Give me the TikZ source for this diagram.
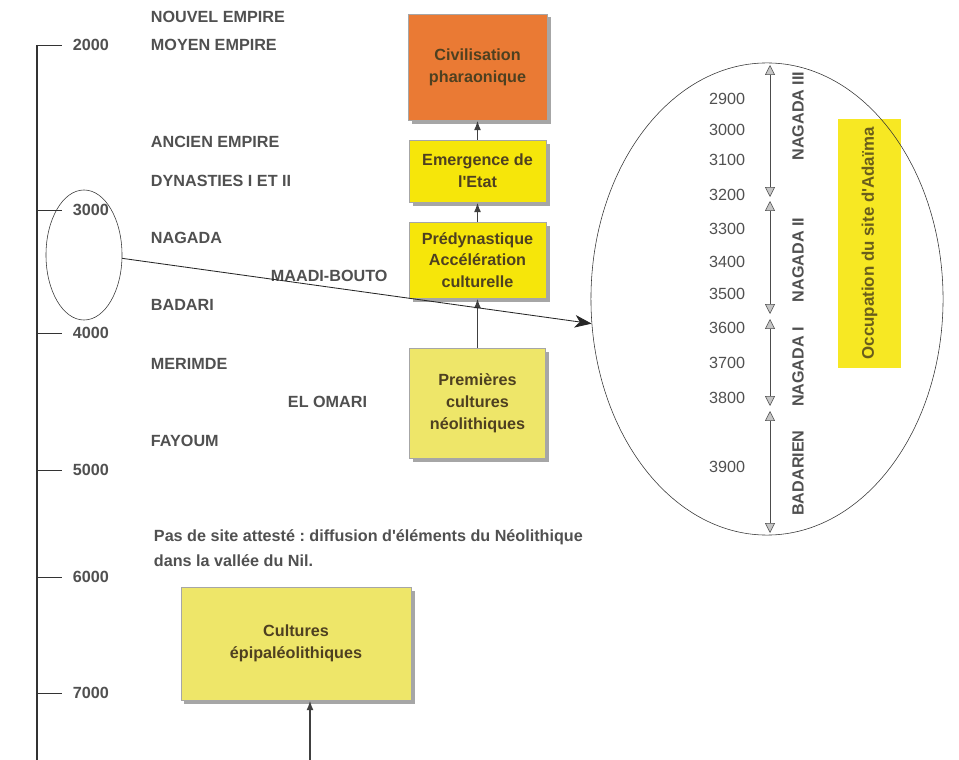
\documentclass[tikz,border=0pt]{standalone}
\usepackage{fontspec}
\setmainfont{Liberation Sans}[Ligatures=TeXOff]
\usepackage{tikz}
\usetikzlibrary{shapes.geometric,arrows.meta,positioning,shadows,calc}
\definecolor{pharaoorange}{RGB}{234,122,52}
\definecolor{nileyellow}{RGB}{246,230,10}
\definecolor{paleyellow}{RGB}{238,230,105}
\definecolor{labelgray}{RGB}{80,80,80}
\definecolor{boxtext}{RGB}{78,64,32}
\frenchspacing

\begin{document}
\begin{tikzpicture}[
        x=0.025cm, y=-0.025cm,
        box/.style={rectangle, draw=gray!70, fill=#1, text=boxtext,
            drop shadow={shadow xshift=2.5pt, shadow yshift=-2.5pt, fill=gray!70, opacity=1},
            align=center, font=\bfseries\fontsize{11.5}{15.5}\selectfont},
        era/.style={anchor=west, text=labelgray, font=\bfseries\fontsize{11.5}{14}\selectfont},
        year/.style={anchor=west, text=labelgray, font=\bfseries\fontsize{11.5}{14}\selectfont},
        bc/.style={anchor=east, text=labelgray, font=\fontsize{11.5}{14}\selectfont},
        period/.style={rotate=90, text=labelgray, font=\bfseries\fontsize{11.5}{14}\selectfont},
        link/.style={-{Latex[length=7pt,width=5pt]}, line width=1.4pt, draw=black!75},
        span/.style={{Triangle[length=7pt,width=7pt,fill=gray!45]}-{Triangle[length=7pt,width=7pt,fill=gray!45]}, thin, draw=black!70}
    ]
        \useasboundingbox (0,0) rectangle (959,760);

        % time axis
        \draw[line width=1.4pt, black!80] (37,45) -- (37,760);
        \foreach \y/\yr in {45/2000, 210/3000, 333/4000, 470/5000, 577/6000, 693/7000}{
            \draw[thin, black!80] (37,\y) -- (62,\y);
            \node[year] at (68,\y) {\yr};
        }

        \node[era] (nouvel) at (146,17) {NOUVEL EMPIRE};
        \node[era] (moyen) at (146,45) {MOYEN EMPIRE};
        \node[era] (ancien) at (146,142) {ANCIEN EMPIRE};
        \node[era] (dyn) at (146,181) {DYNASTIES I ET II};
        \node[era] (nagada) at (146,238) {NAGADA};
        \node[era] (maadi) at (266,276) {MAADI-BOUTO};
        \node[era] (badari) at (146,305) {BADARI};
        \node[era] (merimde) at (146,364) {MERIMDE};
        \node[era] (omari) at (283,402) {EL OMARI};
        \node[era] (fayoum) at (146,441) {FAYOUM};

        \node[era, align=left, font=\bfseries\fontsize{11.5}{17.8}\selectfont] (nodiff) at (149,548)
            {Pas de site attesté : diffusion d'éléments du Néolithique\\dans la vallée du Nil.};

        % stages
        \node[box=pharaoorange, minimum width=3.475cm, minimum height=2.65cm] (civ) at (477.5,67) {Civilisation\\pharaonique};
        \node[box=nileyellow, minimum width=3.425cm, minimum height=1.55cm] (etat) at (477.5,171) {Emergence de\\l'Etat};
        \node[box=nileyellow, minimum width=3.425cm, minimum height=1.9cm] (predyn) at (477.5,260) {Prédynastique\\Accélération\\culturelle};
        \node[box=paleyellow, minimum width=3.4cm, minimum height=2.75cm] (neol) at (477.5,403) {Premières\\cultures\\néolithiques};
        \node[box=paleyellow, minimum width=5.75cm, minimum height=2.825cm] (epi) at (296,643.5) {Cultures\\épipaléolithiques};

        \coordinate (origin) at (310,760);
        \draw[link] (etat) -- (civ);
        \draw[link] (predyn) -- (etat);
        \draw[link] (neol) -- (predyn);
        \draw[link] (origin) -- (origin |- epi.south);

        % zoom on Adaima
        \node[rotate=90, fill=nileyellow!90!white, text=boxtext!85!yellow, minimum width=6.225cm, minimum height=1.575cm,
            font=\bfseries\fontsize{12}{14}\selectfont] (occup) at (869.5,243.5) {Occupation du site d'Adaïma};
        \node[ellipse, draw=black!80, thin, minimum width=1.9cm, minimum height=3.25cm, inner sep=0] (oval) at (84,255) {};
        \node[ellipse, draw=black!80, thin, minimum width=8.8cm, minimum height=11.8cm, inner sep=0] (adaima) at (767,299) {};
        \draw[-{Stealth[length=12pt,width=9pt,inset=3.5pt]}, semithick, black!85] (oval.-5) -- (adaima.188);

        \foreach \y/\yr in {99/2900, 130/3000, 160/3100, 195/3200, 229/3300, 262/3400, 294/3500,
                            328/3600, 363/3700, 398/3800, 467/3900}{
            \node[bc] at (750,\y) {\yr};
        }

        \coordinate (n3a) at (770,65);
        \coordinate (n3b) at (770,197);
        \coordinate (n2a) at (770,201);
        \coordinate (n2b) at (770,314);
        \coordinate (n1a) at (770,319);
        \coordinate (n1b) at (770,406);
        \coordinate (bda) at (770,411);
        \coordinate (bdb) at (770,533);
        \draw[span] (n3a) -- (n3b);
        \draw[span] (n2a) -- (n2b);
        \draw[span] (n1a) -- (n1b);
        \draw[span] (bda) -- (bdb);

        \node[period] (lab3) at (798,116) {NAGADA III};
        \node[period] (lab2) at (798,260) {NAGADA II};
        \node[period] (lab1) at (798,367) {NAGADA I};
        \node[period] (labb) at (798,473) {BADARIEN};
    \end{tikzpicture}
\end{document}
